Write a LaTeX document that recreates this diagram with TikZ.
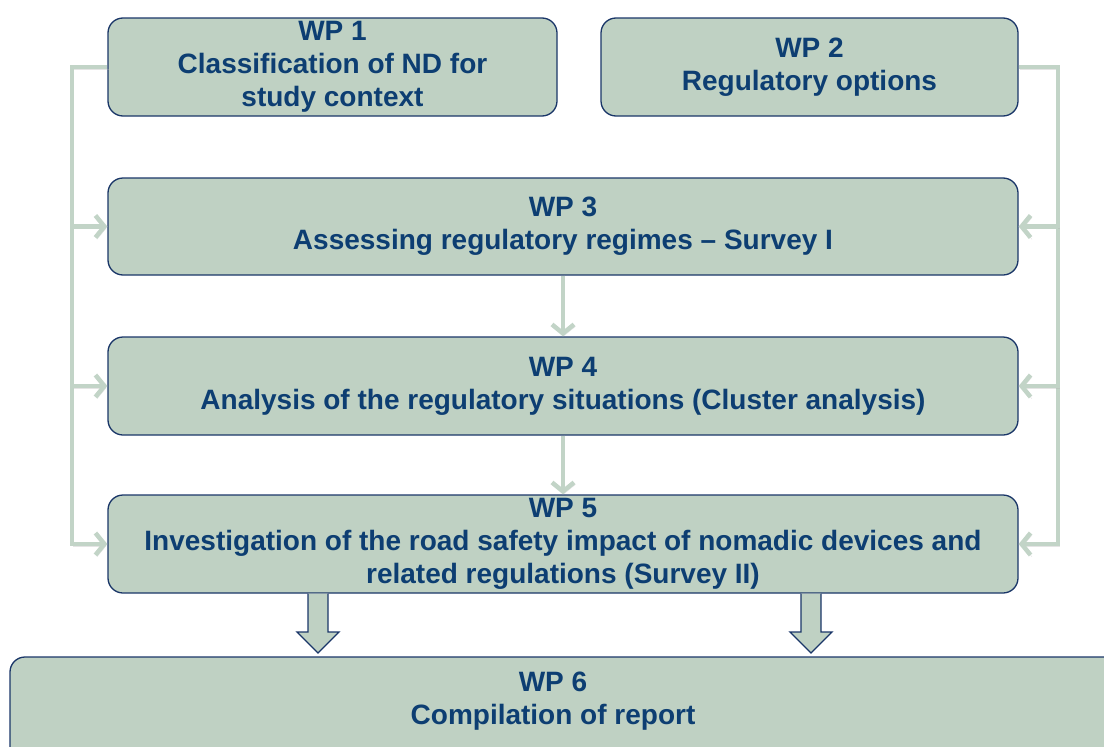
\documentclass[tikz,border=0pt]{standalone}
\usepackage{fontspec}
\setmainfont{Liberation Sans}
\usetikzlibrary{arrows.meta}
\definecolor{boxfill}{HTML}{BFD1C3}
\definecolor{boxdraw}{HTML}{1A3668}
\definecolor{txtblue}{HTML}{0D3E72}
\definecolor{connc}{HTML}{C2D4C7}
\begin{document}
\begin{tikzpicture}[x=1pt,y=-1pt,
  wp/.style={draw=boxdraw, line width=1.3pt, fill=boxfill, rounded corners=15pt,
    text=txtblue, font=\fontsize{28}{33}\selectfont\bfseries, align=center, inner sep=0pt},
  wptext/.style={text=txtblue, font=\fontsize{28}{33}\selectfont\bfseries, align=center, inner sep=0pt},
  link/.style={draw=connc, line width=4.5pt,
    preaction={draw=black!30, opacity=0.35, transform canvas={shift={(1.5pt,-2pt)}}}},
  tip/.style={-{Straight Barb[length=9pt,width=22pt]}},
  blk/.style={draw=boxdraw, line width=1.3pt, fill=boxfill, line join=miter}
]
\useasboundingbox (0,0) rectangle (1104,747);
\clip (0,0) rectangle (1104,747);

% boxes
\node[wp, minimum width=449pt, minimum height=98pt] (wp1) at (332.5,67)
  {WP 1\\Classification of ND for\\study context};
\node[wp, minimum width=417pt, minimum height=98pt] (wp2) at (809.5,67)
  {WP 2\\Regulatory options};
\node[wp, minimum width=910pt, minimum height=97pt] (wp3) at (563,226.5)
  {WP 3\\Assessing regulatory regimes – Survey I};
\node[wp, minimum width=910pt, minimum height=98pt] (wp4) at (563,386)
  {WP 4\\Analysis of the regulatory situations (Cluster analysis)};
\node[wp, minimum width=910pt, minimum height=98pt] (wp5) at (563,544)
  {WP 5\\Investigation of the road safety impact of nomadic devices and\\related regulations (Survey II)};
\node[wp, minimum width=1120pt, minimum height=124pt] (wp6) at (570,719) {};
\node[wptext] (wp6t) at (553,701.5) {WP 6\\Compilation of report};

% side connectors
\coordinate (L1) at (72,67);
\coordinate (R1) at (1058,67);
\draw[link,tip] (wp1.west) -- (L1) -- (L1 |- wp5.west) -- (wp5.west);
\draw[link,tip] (L1 |- wp3.west) -- (wp3.west);
\draw[link,tip] (L1 |- wp4.west) -- (wp4.west);
\draw[link,tip] (wp2.east) -- (R1) -- (R1 |- wp5.east) -- (wp5.east);
\draw[link,tip] (R1 |- wp3.east) -- (wp3.east);
\draw[link,tip] (R1 |- wp4.east) -- (wp4.east);

% vertical connectors
\draw[link,tip] (wp3.south) -- (wp4.north);
\draw[link,tip] (wp4.south) -- (wp5.north);

% block arrows WP5 -> WP6
\draw[blk] (308,593.6) -- (308,632) -- (297,632) -- (318,653) -- (339,632) -- (328,632) -- (328,593.6);
\draw[blk] (801,593.6) -- (801,632) -- (790,632) -- (811,653) -- (832,632) -- (821,632) -- (821,593.6);
\end{tikzpicture}
\end{document}
